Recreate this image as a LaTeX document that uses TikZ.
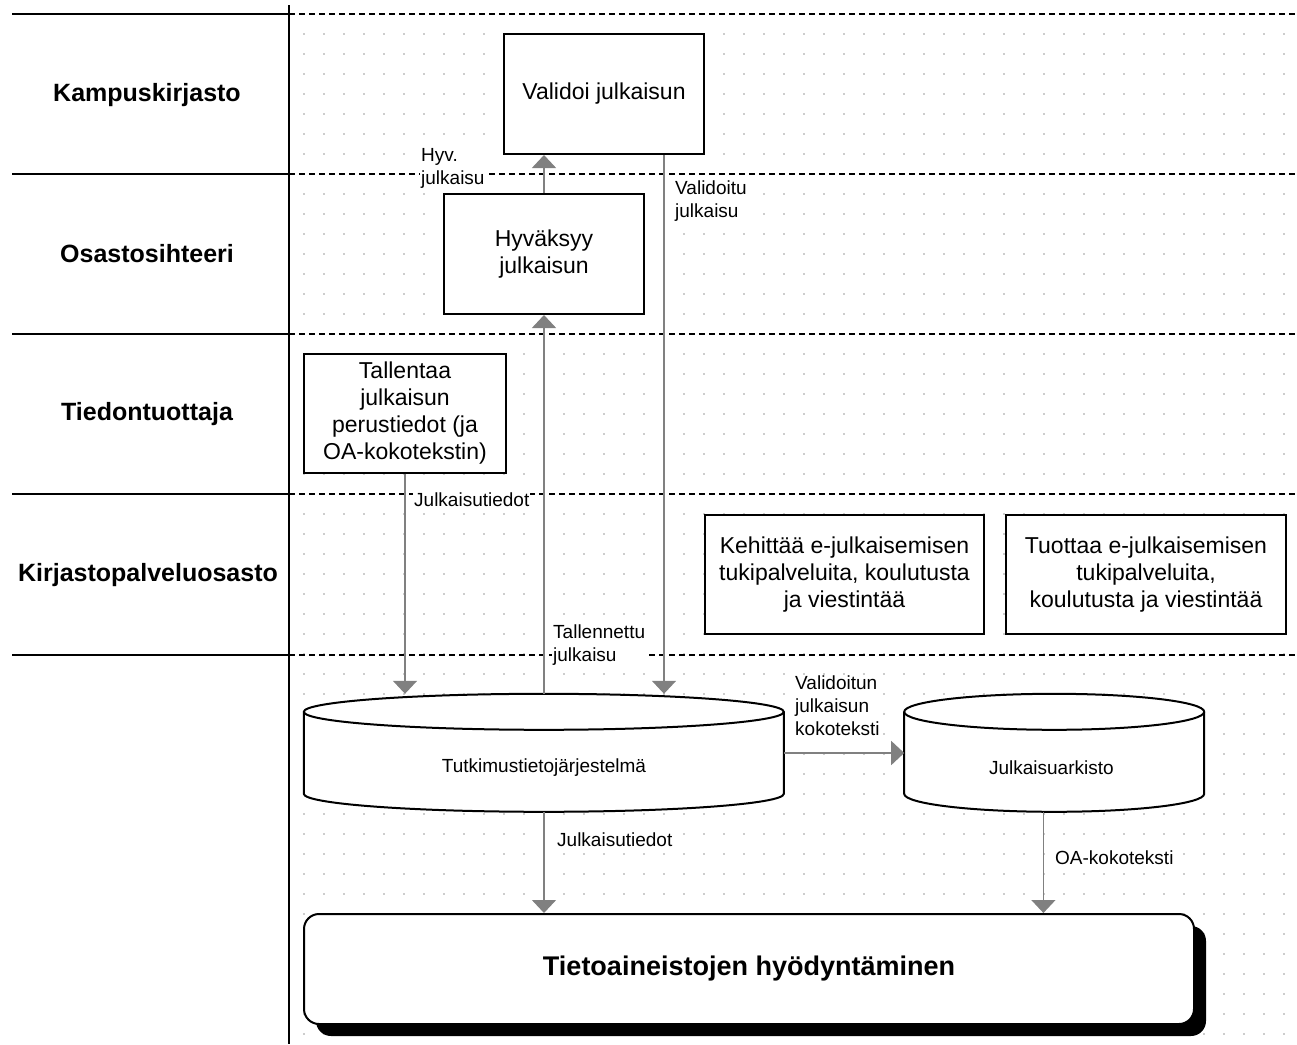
\documentclass[tikz,border=0pt]{standalone}
\usepackage{fontspec}
\setmainfont{Liberation Sans}
\usetikzlibrary{arrows.meta,shadows,positioning}

\begin{document}
\begin{tikzpicture}[x=1pt, y=-1pt, >={Triangle[width=24pt,length=13pt]},
    kaista/.style={draw=black, line width=2pt},
    katko/.style={draw=black, line width=1.5pt, dash pattern=on 6pt off 4pt},
    kaistanimi/.style={font=\fontsize{25}{29}\selectfont\bfseries},
    laatikko/.style={draw=black, line width=2pt, fill=white, align=center,
                     inner sep=2pt, font=\fontsize{23}{27}\selectfont},
    kanta/.style={inner sep=0pt, minimum height=118pt},
    kuori/.style={draw=black, line width=2pt, fill=white},
    nuoli/.style={->, draw=black!50, line width=1.5pt},
    selite/.style={fill=white, inner sep=1pt, align=left, anchor=north west,
                   font=\fontsize{19}{23}\selectfont},
    loppu/.style={draw=black, line width=2pt, fill=white, rounded corners=15pt,
                  minimum width=890pt, minimum height=110pt,
                  font=\fontsize{27}{32}\selectfont\bfseries,
                  drop shadow={shadow xshift=12pt, shadow yshift=-12pt, fill=black, opacity=1}}]

\useasboundingbox (0,0) rectangle (1297,1044);

% pisteruudukko
\foreach \x in {304,324,...,1284}
  \foreach \y in {14,34,...,1034}
    \fill[black!40] (\x,\y) circle[radius=0.9pt];

% kaistat
\foreach \y in {14,174,334,494,655} {
  \draw[kaista] (12,\y) -- (289,\y);
  \draw[katko] (289,\y) -- (1297,\y);
}
\draw[kaista] (289,5) -- (289,1044);

\node[kaistanimi] (kampus) at (147,95) {Kampuskirjasto};
\node[kaistanimi] (osasto) at (147,254) {Osastosihteeri};
\node[kaistanimi] (tuottaja) at (147,414) {Tiedontuottaja};
\node[kaistanimi] (kpo) at (148,575) {Kirjastopalveluosasto};

% toiminnot
\node[laatikko, minimum width=200pt, minimum height=120pt] (val) at (604,94) {Validoi julkaisun};
\node[laatikko, minimum width=200pt, minimum height=120pt] (hyv) at (544,254) {Hyväksyy\\julkaisun};
\node[laatikko, minimum width=202pt, minimum height=119pt] (tall) at (405,413)
  {Tallentaa\\julkaisun\\perustiedot (ja\\OA-kokotekstin)};
\node[laatikko, minimum width=279pt, minimum height=119pt] (keh) at (844.5,574.5)
  {Kehittää e-julkaisemisen\\tukipalveluita, koulutusta\\ja viestintää};
\node[laatikko, minimum width=280pt, minimum height=119pt, right=20pt of keh] (tuo)
  {Tuottaa e-julkaisemisen\\tukipalveluita,\\koulutusta ja viestintää};

% tietokannat
\node[kanta, minimum width=480pt] (tjs) at (544,753) {};
\draw[kuori] (tjs.north west) ++(0,18) -- ++(0,82)
  arc[start angle=180, end angle=0, x radius=240, y radius=18] -- ++(0,-82)
  arc[start angle=0, end angle=-180, x radius=240, y radius=18] -- cycle;
\draw[kuori, fill=none] (tjs.north west) ++(0,18)
  arc[start angle=180, end angle=0, x radius=240, y radius=18];
\node[font=\fontsize{19}{23}\selectfont] (tjsnimi) at ([yshift=-15pt]tjs.center) {Tutkimustietojärjestelmä};

\node[kanta, minimum width=300pt, right=120pt of tjs] (ark) {};
\draw[kuori] (ark.north west) ++(0,18) -- ++(0,82)
  arc[start angle=180, end angle=0, x radius=150, y radius=18] -- ++(0,-82)
  arc[start angle=0, end angle=-180, x radius=150, y radius=18] -- cycle;
\draw[kuori, fill=none] (ark.north west) ++(0,18)
  arc[start angle=180, end angle=0, x radius=150, y radius=18];
\node[font=\fontsize{19}{23}\selectfont] (arknimi) at ([xshift=-3pt,yshift=-15pt]ark.center) {Julkaisuarkisto};

\node[loppu] (hy) at (749,969) {Tietoaineistojen hyödyntäminen};

% virrat
\draw[nuoli] (hyv.north) -- (hyv.north |- val.south);
\draw[nuoli] ([xshift=60pt]val.south) -- ([xshift=60pt]val.south |- tjs.north);
\draw[nuoli] (tall.south) -- (tall.south |- tjs.north);
\draw[nuoli] (tjs.north) -- (hyv.south);
\draw[nuoli] (tjs.east) -- (ark.west);
\draw[nuoli] (tjs.south) -- (tjs.south |- hy.north);
\draw[nuoli] ([xshift=-11pt]ark.south) -- ([xshift=-11pt]ark.south |- hy.north);

\node[selite] (s1) at (420,147) {Hyv.\\julkaisu};
\node[selite] (s2) at (674,180) {Validoitu\\julkaisu};
\node[selite] (s3) at (413,492) {Julkaisutiedot};
\node[selite] (s4) at (552,624) {Tallennettu\\julkaisu};
\node[selite] (s5) at (794,675) {Validoitun\\julkaisun\\kokoteksti};
\node[selite] (s6) at (556,832) {Julkaisutiedot};
\node[selite] (s7) at (1054,850) {OA-kokoteksti};
\end{tikzpicture}
\end{document}
